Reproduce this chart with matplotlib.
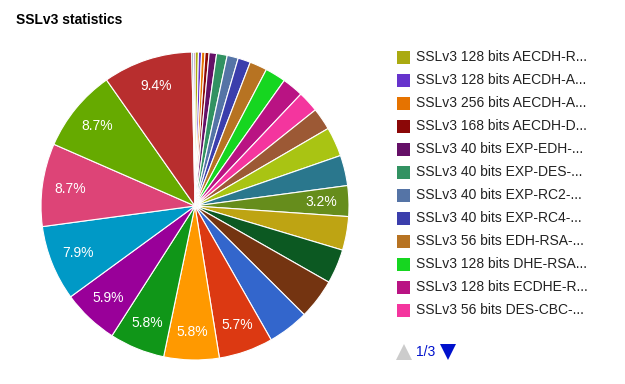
import math
import matplotlib
matplotlib.use("Agg")
import matplotlib.pyplot as plt
from matplotlib.patches import Rectangle

plt.rcParams['font.family'] = ['Liberation Sans', 'DejaVu Sans']

# ---- data (slice order, clockwise from 12 o'clock) ----
categories = [
    "SSLv3 128 bits AECDH-R...", "SSLv3 128 bits AECDH-A...", "SSLv3 256 bits AECDH-A...",
    "SSLv3 168 bits AECDH-D...", "SSLv3 40 bits EXP-EDH-...", "SSLv3 40 bits EXP-DES-...",
    "SSLv3 40 bits EXP-RC2-...", "SSLv3 40 bits EXP-RC4-...", "SSLv3 56 bits EDH-RSA-...",
    "SSLv3 128 bits DHE-RSA...", "SSLv3 128 bits ECDHE-R...", "SSLv3 56 bits DES-CBC-...",
    "cipher 13", "cipher 14", "cipher 15", "cipher 16", "cipher 17", "cipher 18",
    "cipher 19", "cipher 20", "cipher 21", "cipher 22", "cipher 23", "cipher 24",
    "cipher 25", "cipher 26", "cipher 27", "cipher 28", "cipher 29", "cipher 30",
]
values = [0.36, 0.33, 0.36, 0.42, 0.78, 1.11, 1.17, 1.31, 1.83, 2.17, 2.22, 2.22,
          2.33, 3.08, 3.19, 3.22, 3.53, 3.61, 4.22, 4.31, 5.7, 5.8, 5.8, 5.9,
          7.9, 8.7, 8.7, 9.4, 0.17, 0.17]
colors = ["#AAAA11", "#6633CC", "#E67300", "#8B0707", "#651067", "#329262",
          "#5574A6", "#3B3EAC", "#B77322", "#16D620", "#B91383", "#F4359E",
          "#9C5935", "#A9C413", "#2A778D", "#668D1C", "#BEA413", "#0C5922",
          "#743411", "#3366CC", "#DC3912", "#FF9900", "#109618", "#990099",
          "#0099C6", "#DD4477", "#66AA00", "#B82E2E", "#316395", "#994499"]
labeled = [15, 20, 21, 22, 23, 24, 25, 26, 27]
legend_count = 12
page_text = "1/3"
title = "SSLv3 statistics"

W, H = 625, 384
fig = plt.figure(figsize=(W / 100, H / 100), dpi=100)

# pie axes
cx, cy, r = 195, 206, 154
ax = fig.add_axes([(cx - r) / W, (H - cy - r) / H, 2 * r / W, 2 * r / H])
total = sum(values)
wedges, _ = ax.pie(values, colors=colors, startangle=90, counterclock=False,
                   wedgeprops=dict(edgecolor="white", linewidth=0.8))
ang = 90.0
for i, v in enumerate(values):
    span = 360.0 * v / total
    mid = ang - span / 2
    ang -= span
    if i in labeled:
        rr = 0.82
        ax.text(rr * math.cos(math.radians(mid)), rr * math.sin(math.radians(mid)),
                f"{100 * v / total:.1f}%", color="white", fontsize=10,
                ha="center", va="center")
ax.set_xlim(-1, 1)
ax.set_ylim(-1, 1)
ax.set_aspect("equal")
ax.axis("off")

# overlay axes in pixel coordinates
ov = fig.add_axes([0, 0, 1, 1])
ov.set_xlim(0, W)
ov.set_ylim(H, 0)
ov.axis("off")

ov.text(16, 20, title, fontsize=10, fontweight="bold", color="#000000",
        ha="left", va="center")

y0, dy = 57, 23
for i in range(legend_count):
    yc = y0 + i * dy
    ov.add_patch(Rectangle((397, yc - 6.5), 13, 13, facecolor=colors[i],
                           edgecolor="none"))
    ov.text(416, yc, categories[i], fontsize=10, color="#222222",
            ha="left", va="center")

py = 352
ov.plot([403.5], [py], marker="^", markersize=11, color="#cccccc",
        markeredgewidth=0)
ov.text(416, py, page_text, fontsize=10, color="#0011cc", ha="left",
        va="center")
ov.plot([447.5], [py], marker="v", markersize=11, color="#0011cc",
        markeredgewidth=0)

fig.savefig("out.png", dpi=100, facecolor="white")
